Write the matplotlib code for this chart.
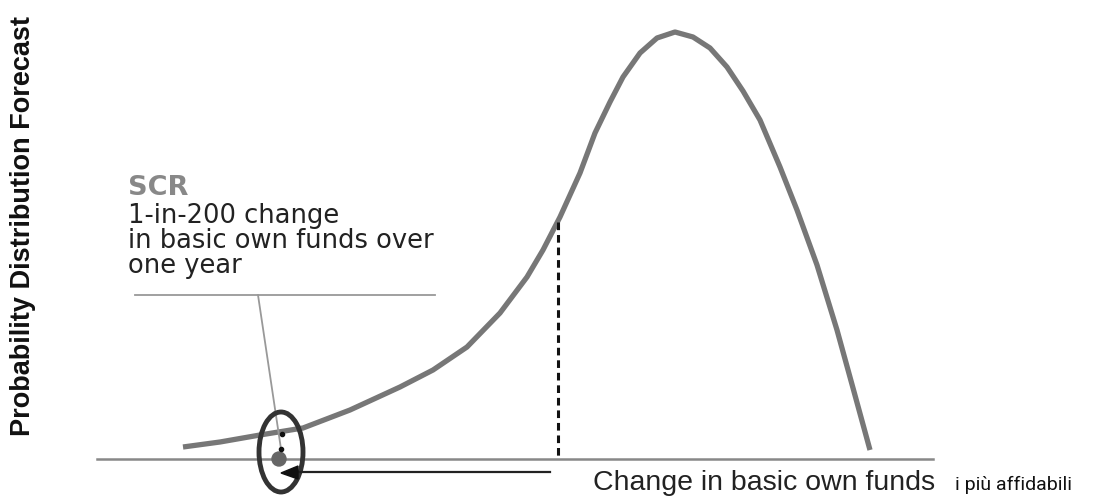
import numpy as np
import matplotlib.pyplot as plt
from matplotlib.patches import Ellipse, Circle

plt.rcParams['font.family'] = ['Liberation Sans', 'DejaVu Sans']

# distribution curve (pixel coords, y down)
curve_x = [183, 220, 260, 303, 350, 400, 433, 467, 500, 527, 543, 560, 580,
           595, 610, 623, 640, 657, 675, 693, 710, 727, 743, 760, 780, 797,
           817, 837, 853, 870]
curve_y = [447, 442, 435, 428, 410, 387, 370, 347, 313, 277, 250, 217, 173,
           133, 102, 77, 53, 38, 32, 37, 48, 67, 91, 120, 167, 210,
           265, 330, 388, 450]

# SCR marker position and percentile line
scr_x = 279
scr_y = 459
pct_x = 558
pct_top = 222
base_y = 459

scr_title = 'SCR'
scr_lines = ['1-in-200 change', 'in basic own funds over', 'one year']
x_label = 'Change in basic own funds'
y_label = 'Probability Distribution Forecast'
side_note = 'i più affidabili'

fig = plt.figure(figsize=(11.17, 4.96), dpi=100)
ax = fig.add_axes([0, 0, 1, 1])
ax.set_xlim(0, 1117)
ax.set_ylim(496, 0)
ax.axis('off')

# baseline
ax.plot([97, 933], [base_y, base_y], color='#888888', lw=1.8, zorder=1)

# curve
ax.plot(curve_x, curve_y, color='#777777', lw=3.8, solid_capstyle='butt',
        solid_joinstyle='round', zorder=2)

# dashed percentile line
ax.plot([pct_x, pct_x], [pct_top, base_y], color='#111111', lw=2.2,
        dashes=(2.5, 1.6), zorder=3)

# callout line and leader
ax.plot([135, 435], [295, 295], color='#999999', lw=1.3)
ax.plot([258, scr_x + 2], [295, 449], color='#999999', lw=1.3)

# ellipse + dots
ax.add_patch(Ellipse((281, 452), 44, 80, fill=False, ec='#333333', lw=3.5, zorder=4))
ax.add_patch(Circle((scr_x, scr_y), 7, color='#666666', zorder=5))
ax.plot([282, 281], [434, 449], 'o', color='#111111', ms=3, zorder=6)

# arrow pointing left
ax.plot([297, 550], [472, 472], color='#222222', lw=1.6, zorder=4)
ax.fill([281, 298, 298], [473, 466, 479], color='#111111', zorder=5)

# texts
ax.text(128, 195, scr_title, color='#888888', fontsize=19.5, fontweight='bold',
        va='baseline', ha='left', family='DejaVu Sans')
for i, line in enumerate(scr_lines):
    ax.text(128, 223 + 25 * i, line, color='#222222', fontsize=18.5,
            va='baseline', ha='left', family='DejaVu Sans')
ax.text(593, 490, x_label, color='#222222', fontsize=20.5, va='baseline', ha='left')
ax.text(955, 490, side_note, color='#111111', fontsize=14, va='baseline',
        ha='left', family='Roboto')
ax.text(23, 226, y_label, color='#111111', fontsize=19.5, fontweight='bold',
        rotation=90, ha='center', va='center')

fig.savefig('out.png', dpi=100)
